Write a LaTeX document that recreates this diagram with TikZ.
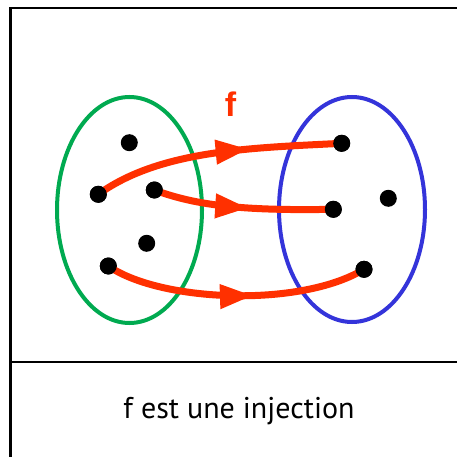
\documentclass[tikz,border=0pt]{standalone}
\usepackage{fontspec}
\setmainfont{PT Sans}
\newfontfamily\labfont{Liberation Sans}
\usetikzlibrary{arrows.meta,decorations.markings}
\definecolor{fred}{RGB}{255,48,0}
\definecolor{fgreen}{RGB}{0,170,80}
\definecolor{fblue}{RGB}{52,52,218}
\tikzset{
  frameline/.style={line width=2.5pt,black},
  sepline/.style={line width=1.6pt,black},
  setring/.style={line width=4pt},
  elt/.style={circle,fill=black,inner sep=0pt,minimum size=17pt},
  maparrow/.style={fred,line width=7pt,line cap=round,postaction={decorate},
    decoration={markings,mark=at position #1 with {\arrow{Triangle[length=33pt,width=23pt]}}}}
}
\begin{document}
\begin{tikzpicture}[x=1pt,y=-1pt]
\useasboundingbox (0,0) rectangle (457,457);
\fill[white] (0,0) rectangle (457,457);
% frame
\coordinate (tl) at (10.3,8);
\coordinate (tr) at (457,8);
\coordinate (bl) at (10.3,457);
\coordinate (sl) at (10.3,361.7);
\coordinate (sr) at (457,361.7);
\draw[frameline] (tr) -- (tl) -- (bl);
\draw[sepline] (sl) -- (sr);
% sets
\draw[setring,fgreen] (129.5,210) ellipse [x radius=72.5, y radius=113];
\draw[setring,fblue] (352,209.5) ellipse [x radius=73, y radius=112.5];
% elements
\node[elt] (a1) at (129.3,142.7) {};
\node[elt] (a2) at (98.3,194.3) {};
\node[elt] (a3) at (154.3,190) {};
\node[elt] (a4) at (146.7,243.3) {};
\node[elt] (a5) at (108.3,266) {};
\node[elt] (b1) at (341.7,143.3) {};
\node[elt] (b2) at (333.3,209.3) {};
\node[elt] (b3) at (388.3,198.3) {};
\node[elt] (b4) at (364,269.3) {};
% arrows
\draw[maparrow=0.63] (a2.center) .. controls (160,150) and (250,148) .. (b1.center);
\draw[maparrow=0.53] (a3.center) .. controls (195,205) and (240,211) .. (b2.center);
\draw[maparrow=0.565] (a5.center) .. controls (160,302) and (300,308) .. (b4.center);
% redraw dots on top
\foreach \n in {a2,a3,a5,b1,b2,b4} {\fill (\n) circle (8.5pt);}
% labels
\node[fred,font=\labfont\bfseries\fontsize{34}{34}\selectfont,inner sep=0pt,anchor=base] (f) at (230.5,117) {f};
\node[font=\fontsize{30}{30}\selectfont,inner sep=0pt,anchor=base] (cap) at (239,418.3) {f est une injection};
\end{tikzpicture}
\end{document}
